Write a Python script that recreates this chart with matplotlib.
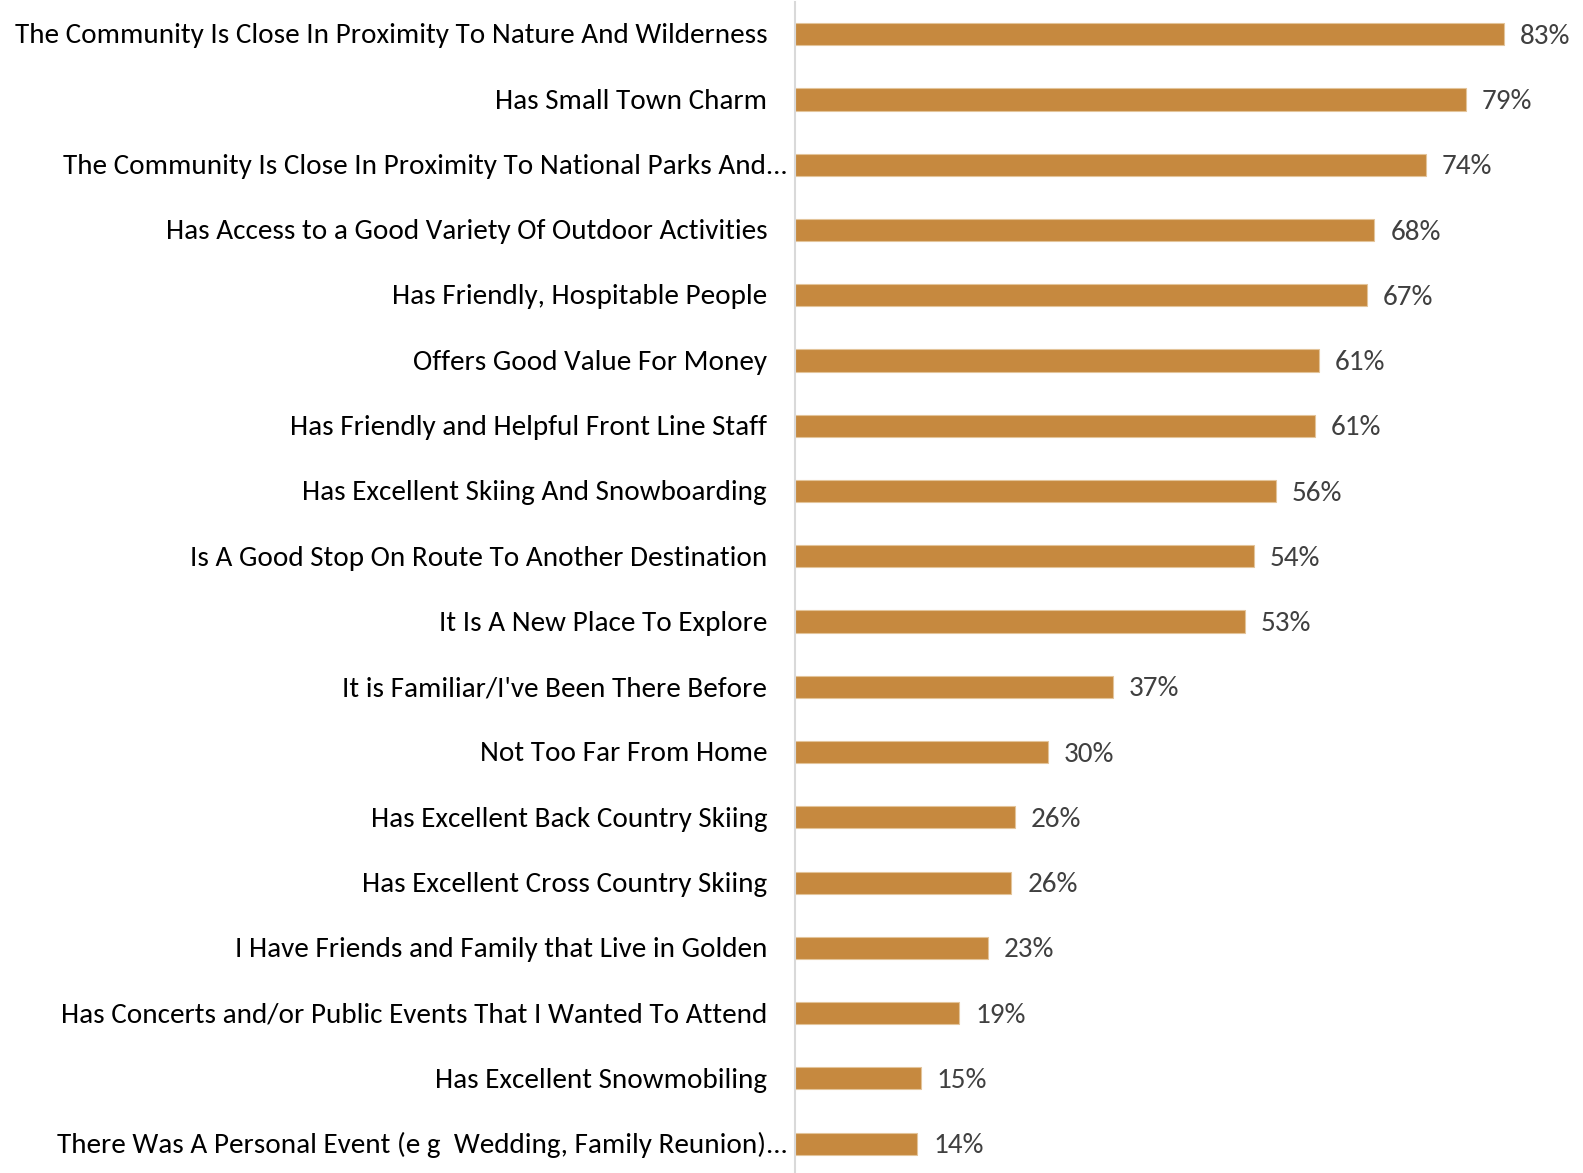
import matplotlib
matplotlib.use("Agg")
import matplotlib.pyplot as plt
from matplotlib import font_manager

categories = [
    "The Community Is Close In Proximity To Nature And Wilderness",
    "Has Small Town Charm",
    "The Community Is Close In Proximity To National Parks And...",
    "Has Access to a Good Variety Of Outdoor Activities",
    "Has Friendly, Hospitable People",
    "Offers Good Value For Money",
    "Has Friendly and Helpful Front Line Staff",
    "Has Excellent Skiing And Snowboarding",
    "Is A Good Stop On Route To Another Destination",
    "It Is A New Place To Explore",
    "It is Familiar/I've Been There Before",
    "Not Too Far From Home",
    "Has Excellent Back Country Skiing",
    "Has Excellent Cross Country Skiing",
    "I Have Friends and Family that Live in Golden",
    "Has Concerts and/or Public Events That I Wanted To Attend",
    "Has Excellent Snowmobiling",
    "There Was A Personal Event (e g  Wedding, Family Reunion)...",
]
values = [83.0, 78.5, 73.8, 67.8, 66.9, 61.3, 60.8, 56.3, 53.7, 52.6,
          37.2, 29.6, 25.7, 25.3, 22.6, 19.2, 14.7, 14.3]
value_labels = ["83%", "79%", "74%", "68%", "67%", "61%", "61%", "56%", "54%",
                "53%", "37%", "30%", "26%", "26%", "23%", "19%", "15%", "14%"]

names = {f.name for f in font_manager.fontManager.ttflist}
fam = "Carlito" if "Carlito" in names else "Lato"
plt.rcParams['font.family'] = [fam, 'DejaVu Sans']

W, H = 1583, 1173
fig = plt.figure(figsize=(W / 100, H / 100), dpi=100)
ax = fig.add_axes([795 / W, -0.0028, 1 - 795 / W, 1.0014])

bar_color = "#C6893F"
ypos = list(range(len(categories)))
ax.barh(ypos, values, height=0.34, color=bar_color, edgecolor="#E3C49A", linewidth=0.8)
ax.set_ylim(len(categories) - 0.5, -0.5)
ax.set_xlim(0, 92.2)

fs = 21
for i, (cat, v, lab) in enumerate(zip(categories, values, value_labels)):
    off = -5 if cat.endswith("...") else -20
    ax.annotate(cat, xy=(0, i), xytext=(off, -1.2), textcoords="offset points",
                ha="right", va="center", fontsize=fs, color="black", annotation_clip=False)
    ax.annotate(lab, xy=(v, i), xytext=(11.5, -1.5), textcoords="offset points",
                ha="left", va="center", fontsize=fs, color="#404040", annotation_clip=False)

ax.set_xticks([])
ax.set_yticks([])
for s in ["top", "right", "bottom"]:
    ax.spines[s].set_visible(False)
ax.spines["left"].set_color("#D9D9D9")
ax.spines["left"].set_linewidth(1.5)

fig.savefig("out.png", dpi=100)
